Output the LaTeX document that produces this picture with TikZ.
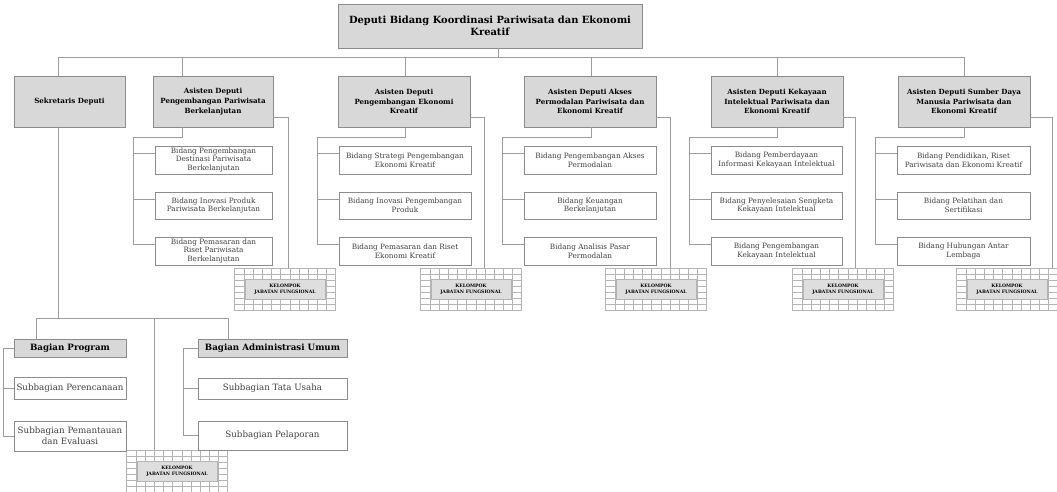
\documentclass[tikz,border=0pt]{standalone}
\usepackage{fontspec}
\setmainfont{DejaVu Serif}
\definecolor{boxfill}{HTML}{D8D8D8}
\definecolor{boxline}{HTML}{8C8C8C}
\definecolor{conncol}{HTML}{9C9C9C}
\definecolor{txtgray}{HTML}{404040}
\definecolor{gridcol}{HTML}{B4B4B4}
\begin{document}
\begin{tikzpicture}[x=1pt,y=-1pt,
  conn/.style={draw=conncol,line width=0.9pt},
  wh/.style 2 args={minimum width=#1pt,minimum height=#2pt},
  head/.style={draw=boxline,fill=boxfill,line width=0.8pt,align=center,inner sep=1pt,
    font=\fontsize{9.9}{12.5}\selectfont\bfseries},
  ad/.style={draw=boxline,fill=boxfill,line width=0.8pt,align=center,inner sep=1pt,
    font=\fontsize{7.1}{9.6}\selectfont\bfseries},
  bid/.style={draw=boxline,fill=white,line width=0.7pt,align=center,inner sep=1pt,
    text=txtgray,font=\fontsize{7.3}{8.8}\selectfont},
  bag/.style={draw=boxline,fill=boxfill,line width=0.7pt,align=center,inner sep=1pt,
    font=\fontsize{8.7}{10}\selectfont\bfseries},
  sub/.style={draw=boxline,fill=white,line width=0.7pt,align=center,inner sep=1pt,
    text=txtgray,font=\fontsize{8.7}{11}\selectfont},
  kjf/.style={draw=gridcol,line width=0.5pt,fill=white,minimum width=101pt,minimum height=42pt,
    path picture={
      \foreach \k in {1,...,6}{\draw[gridcol,line width=0.4pt]
        ([yshift=\k*6pt]path picture bounding box.south west) --
        ([yshift=\k*6pt]path picture bounding box.south east);}
      \foreach \k in {1,...,10}{\draw[gridcol,line width=0.4pt]
        ([xshift=\k*9.2pt]path picture bounding box.south west) --
        ([xshift=\k*9.2pt]path picture bounding box.north west);}
    }},
  kjfin/.style={draw=gridcol,fill=boxfill!85,minimum width=80pt,minimum height=20pt,inner sep=0pt,
    align=center,font=\fontsize{4.6}{5.6}\selectfont\bfseries}
]
\useasboundingbox (0,0) rectangle (1057,492);

% top
\node[head,wh={304}{44}] (top) at (490,26) {Deputi Bidang Koordinasi Pariwisata dan Ekonomi\\Kreatif};

% level 2
\node[ad,wh={111}{51}] (a1) at (69.5,101.5) {Sekretaris Deputi};
\node[ad,wh={120}{51}] (a2) at (213,101.5) {Asisten Deputi\\Pengembangan Pariwisata\\Berkelanjutan};
\node[ad,wh={132}{51}] (a3) at (404,101.5) {Asisten Deputi\\Pengembangan Ekonomi\\Kreatif};
\node[ad,wh={132}{51}] (a4) at (590,101.5) {Asisten Deputi Akses\\Permodalan Pariwisata dan\\Ekonomi Kreatif};
\node[ad,wh={132}{51}] (a5) at (777,101.5) {Asisten Deputi Kekayaan\\Intelektual Pariwisata dan\\Ekonomi Kreatif};
\node[ad,wh={132}{51}] (a6) at (964,101.5) {Asisten Deputi Sumber Daya\\Manusia Pariwisata dan\\Ekonomi Kreatif};

% bidang column 2
\node[bid,wh={117}{28}] (b21) at (213.5,160) {Bidang Pengembangan\\Destinasi Pariwisata\\Berkelanjutan};
\node[bid,wh={117}{27}] (b22) at (213.5,205.5) {Bidang Inovasi Produk\\Pariwisata Berkelanjutan};
\node[bid,wh={117}{28}] (b23) at (213.5,251) {Bidang Pemasaran dan\\Riset Pariwisata\\Berkelanjutan};
% column 3
\node[bid,wh={132}{28}] (b31) at (405,160) {Bidang Strategi Pengembangan\\Ekonomi Kreatif};
\node[bid,wh={132}{27}] (b32) at (405,205.5) {Bidang Inovasi Pengembangan\\Produk};
\node[bid,wh={132}{28}] (b33) at (405,251) {Bidang Pemasaran dan Riset\\Ekonomi Kreatif};
% column 4
\node[bid,wh={132}{28}] (b41) at (590,160) {Bidang Pengembangan Akses\\Permodalan};
\node[bid,wh={132}{27}] (b42) at (590,205.5) {Bidang Keuangan\\Berkelanjutan};
\node[bid,wh={132}{28}] (b43) at (590,251) {Bidang Analisis Pasar\\Permodalan};
% column 5
\node[bid,wh={131}{28}] (b51) at (776.5,160) {Bidang Pemberdayaan\\Informasi Kekayaan Intelektual};
\node[bid,wh={131}{27}] (b52) at (776.5,205.5) {Bidang Penyelesaian Sengketa\\Kekayaan Intelektual};
\node[bid,wh={131}{28}] (b53) at (776.5,251) {Bidang Pengembangan\\Kekayaan Intelektual};
% column 6
\node[bid,wh={133}{28}] (b61) at (963.5,160) {Bidang Pendidikan, Riset\\Pariwisata dan Ekonomi Kreatif};
\node[bid,wh={133}{27}] (b62) at (963.5,205.5) {Bidang Pelatihan dan\\Sertifikasi};
\node[bid,wh={133}{28}] (b63) at (963.5,251) {Bidang Hubungan Antar\\Lembaga};

% kelompok jabatan fungsional
\foreach \n/\x/\y in {2/285/289,3/471/289,4/656/289,5/843/289,6/1007/289,b/177/471}{
  \node[kjf] (k\n) at (\x,\y) {};
  \node[kjfin] (k\n i) at (\x,\y) {KELOMPOK\\JABATAN FUNGSIONAL};
}

% bottom section
\node[bag,wh={112}{18}] (p1) at (70,348) {Bagian Program};
\node[sub,wh={112}{22}] (p2) at (70,388) {Subbagian Perencanaan};
\node[sub,wh={112}{30}] (p3) at (70,436) {Subbagian Pemantauan\\dan Evaluasi};
\node[bag,wh={149}{18}] (q1) at (272.5,348) {Bagian Administrasi Umum};
\node[sub,wh={149}{21}] (q2) at (272.5,388.5) {Subbagian Tata Usaha};
\node[sub,wh={149}{29}] (q3) at (272.5,435.5) {Subbagian Pelaporan};

% ---- connectors ----
\coordinate (tj) at (498,57);
\coordinate (busL) at (58,57);
\coordinate (busR) at (964,57);
\draw[conn] (top.south -| tj) -- (tj);
\draw[conn] (busL) -- (busR);
\draw[conn] (busL) -- (busL |- a1.north);

\foreach \n/\dx/\rx in {2/182/288,3/405/484,4/591/670,5/777/855,6/964/1052}{
  \coordinate (d\n) at (\dx,137);
  \coordinate (r\n) at (\rx,117);
  \draw[conn] (d\n |- busL) -- (d\n |- a\n.north);
  \draw[conn] (d\n |- a\n.south) -- (d\n) -| ([xshift=-21pt,yshift=-8pt]b\n3.north west) -- ([yshift=-8pt]b\n3.north west);
  \draw[conn] ([yshift=-8pt]b\n1.north west) -- ++(-21pt,0);
  \draw[conn] ([yshift=-8pt]b\n2.north west) -- ++(-21pt,0);
  \draw[conn] (a\n.east |- r\n) -- (r\n) -- (r\n |- k\n.north);
}

% sekretaris branch
\coordinate (sb) at (58,318);
\coordinate (bl) at (36,318);
\coordinate (br) at (228,318);
\coordinate (mid) at (154,318);
\draw[conn] (a1.south -| sb) -- (sb);
\draw[conn] (bl |- p1.north) -- (bl) -- (br) -- (br |- q1.north);
\draw[conn] (mid) -- (mid |- kb.north);
\coordinate (lb) at (3,0);
\coordinate (lb2) at (183,0);
\draw[conn] (p1.west) -| (lb |- p3.west) -- (p3.west);
\draw[conn] (p2.west) -- (lb |- p2.west);
\draw[conn] (q1.west) -| (lb2 |- q3.west) -- (q3.west);
\draw[conn] (q2.west) -- (lb2 |- q2.west);
\end{tikzpicture}
\end{document}
